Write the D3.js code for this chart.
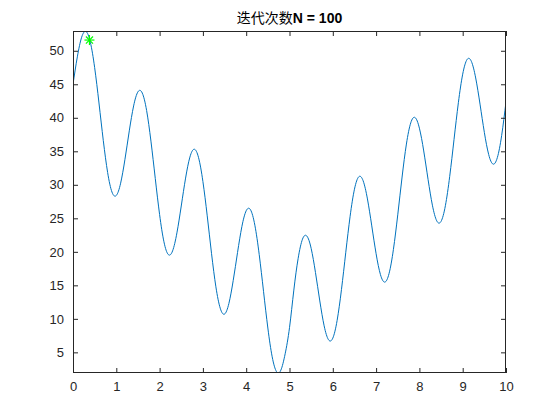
<!DOCTYPE html>
<html>
<head>
<meta charset="utf-8">
<script src="https://cdn.jsdelivr.net/npm/d3@7"></script>
<style>
  html, body { margin: 0; padding: 0; background: #ffffff; }
  svg { display: block; }
  text { font-family: "Liberation Sans", Arial, Helvetica, sans-serif; }
</style>
</head>
<body>
<div id="chart"></div>
<script>
// x samples 0..10 step 0.1
const xValues = d3.range(0, 101).map(i => +(i / 10).toFixed(1));
// y values
const yValues = [
  45.00, 49.09, 52.02, 52.88, 51.29, 47.49, 42.21, 36.59, 31.83, 28.92,
  28.41, 30.24, 33.81, 38.05, 41.77, 43.88, 43.69, 41.09, 36.52, 30.95,
  25.56, 21.50, 19.60, 20.14, 22.83, 26.84, 31.00, 34.14, 35.31, 34.05,
  30.50, 25.37, 19.72, 14.78, 11.59, 10.71, 12.29, 15.72, 19.90, 23.76,
  26.13, 26.27, 23.97, 19.62, 14.11, 8.63, 4.34, 2.12, 2.34, 4.79,
  8.68, 14.29, 19.03, 21.89, 22.36, 20.52, 16.91, 12.67, 8.96, 6.89,
  7.12, 9.77, 14.36, 19.94, 25.31, 29.34, 31.20, 30.61, 27.89, 23.87,
  19.72, 16.61, 15.48, 16.78, 20.36, 25.52, 31.16, 36.08, 39.24, 40.04,
  38.45, 35.05, 30.81, 26.96, 24.63, 24.54, 26.88, 31.26, 36.78, 42.25,
  46.51, 48.69, 48.42, 45.94, 42.04, 37.82, 34.52, 33.09, 34.06, 37.37,
  42.38
];
const bestX = [0.38];
const bestY = [51.6];
const xTicks = [0,1,2,3,4,5,6,7,8,9,10];
const yTicks = [5,10,15,20,25,30,35,40,45,50];
const titleCJK = "迭代次数";
const titleLatin = "N = 100";

const W = 560, H = 420;
const pLeft = 73, pRight = 506, pTop = 31, pBottom = 373;
const axisColor = "#262626";

const svg = d3.select("#chart").append("svg").attr("width", W).attr("height", H);

const x = d3.scaleLinear().domain([0, 10]).range([pLeft, pRight]);
const y = d3.scaleLinear().domain([1.92, 52.95]).range([pBottom, pTop]);

svg.append("clipPath").attr("id", "clip")
  .append("rect").attr("x", pLeft).attr("y", pTop).attr("width", pRight - pLeft).attr("height", pBottom - pTop);

const data = xValues.map((xv, i) => [xv, yValues[i]]);
const line = d3.line().x(d => x(d[0])).y(d => y(d[1])).curve(d3.curveNatural);

svg.append("path").datum(data)
  .attr("clip-path", "url(#clip)")
  .attr("fill", "none").attr("stroke", "#0072BD").attr("stroke-width", 1)
  .attr("d", line);

// green star marker
bestX.forEach((bx, i) => {
  const cx = x(bx), cy = y(bestY[i]);
  const r = 5;
  const g = svg.append("g").attr("transform", `translate(${cx},${cy})`)
    .attr("stroke", "#00FF00").attr("stroke-width", 1.2);
  [0, 45, 90, 135].forEach(a => {
    const rad = a * Math.PI / 180;
    g.append("line")
      .attr("x1", -r * Math.cos(rad)).attr("y1", -r * Math.sin(rad))
      .attr("x2", r * Math.cos(rad)).attr("y2", r * Math.sin(rad));
  });
});

// axes (MATLAB style: ticks inward, box)
const tickLen = 5;
const axB = d3.axisBottom(x).tickValues(xTicks).tickSizeInner(-tickLen).tickSizeOuter(0).tickPadding(9).tickFormat(d3.format("d"));
const axT = d3.axisTop(x).tickValues(xTicks).tickSizeInner(-tickLen).tickSizeOuter(0).tickFormat("");
const axL = d3.axisLeft(y).tickValues(yTicks).tickSizeInner(-tickLen).tickSizeOuter(0).tickPadding(9).tickFormat(d3.format("d"));
const axR = d3.axisRight(y).tickValues(yTicks).tickSizeInner(-tickLen).tickSizeOuter(0).tickFormat("");

function style(g) {
  g.select(".domain").remove();
  g.selectAll(".tick line").attr("stroke", axisColor).attr("stroke-width", 1);
  g.selectAll(".tick text").attr("fill", axisColor).style("font-size", "13px")
    .style("font-family", '"Liberation Sans", Arial, Helvetica, sans-serif');
}
svg.append("g").attr("transform", `translate(0,${pBottom})`).call(axB).call(style);
svg.append("g").attr("transform", `translate(0,${pTop})`).call(axT).call(style);
svg.append("g").attr("transform", `translate(${pLeft},0)`).call(axL).call(style);
svg.append("g").attr("transform", `translate(${pRight},0)`).call(axR).call(style);

svg.append("rect").attr("x", pLeft + 0.5).attr("y", pTop + 0.5)
  .attr("width", pRight - pLeft - 1).attr("height", pBottom - pTop - 1)
  .attr("fill", "none").attr("stroke", axisColor).attr("stroke-width", 1);

const title = svg.append("text").attr("x", (pLeft + pRight) / 2).attr("y", 23)
  .attr("text-anchor", "middle").attr("fill", "#000")
  .style("font-size", "14px");
title.append("tspan")
  .style("font-family", '"Noto Sans CJK SC", sans-serif').style("font-weight", "normal")
  .text(titleCJK);
title.append("tspan")
  .style("font-family", '"Liberation Sans", Arial, sans-serif').style("font-weight", "bold")
  .text(titleLatin);
</script>
</body>
</html>
